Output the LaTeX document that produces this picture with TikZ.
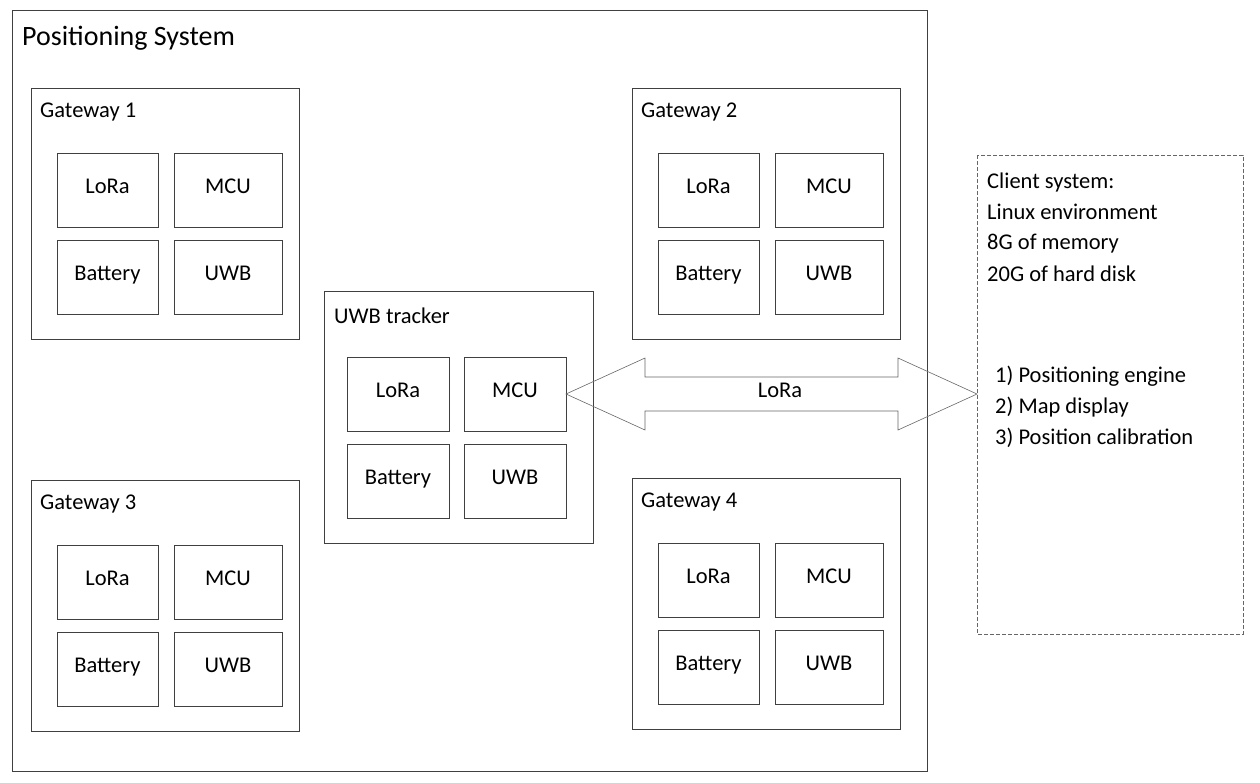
\documentclass[tikz,border=0pt]{standalone}
\usepackage{fontspec}
\setmainfont{Carlito}
\begin{document}
\begin{tikzpicture}[x=1pt,y=-1pt,
  box/.style={draw=black!75,line width=0.8pt},
  lbl/.style={anchor=west,inner sep=0pt,font=\fontsize{22.5}{25}\selectfont},
  ctext/.style={font=\fontsize{22.5}{25}\selectfont,inner sep=0pt,text height=11pt,text depth=4pt}]
\useasboundingbox (0,0) rectangle (1260,782);
\draw[box] (12,10) rectangle (927,771);
\node[lbl,font=\fontsize{28}{30}\selectfont] (title) at (22,38) {Positioning System};
\newcommand{\mycells}[3]{% prefix, x, y of top-left LoRa
  \draw[box] (#2,#3) rectangle ++(101,74) node[ctext,midway] (#1lora) {LoRa};
  \draw[box] (#2+117,#3) rectangle ++(108,74) node[ctext,midway] (#1mcu) {MCU};
  \draw[box] (#2,#3+87) rectangle ++(101,74) node[ctext,midway] (#1bat) {Battery};
  \draw[box] (#2+117,#3+87) rectangle ++(108,74) node[ctext,midway] (#1uwb) {UWB};
}
% Gateway 1
\draw[box] (31,88) rectangle (299,339);
\node[lbl] (g1) at (40,112) {Gateway 1};
\mycells{a}{57}{153}
% Gateway 2
\draw[box] (632,88) rectangle (900,339);
\node[lbl] (g2) at (641,112) {Gateway 2};
\mycells{b}{658}{153}
% Gateway 3
\draw[box] (31,480) rectangle (299,731);
\node[lbl] (g3) at (40,504) {Gateway 3};
\mycells{c}{57}{545}
% Gateway 4
\draw[box] (632,478) rectangle (900,729);
\node[lbl] (g4) at (641,502) {Gateway 4};
\mycells{d}{658}{543}
% UWB tracker
\draw[box] (324,291) rectangle (593,543);
\node[lbl] (ut) at (334,316) {UWB tracker};
\draw[box] (347,357) rectangle (449,431) node[ctext,midway] (tlora) {LoRa};
\draw[box] (464,357) rectangle (566,431) node[ctext,midway] (tmcu) {MCU};
\draw[box] (347,444) rectangle (449,518) node[ctext,midway] (tbat) {Battery};
\draw[box] (464,444) rectangle (566,518) node[ctext,midway] (tuwb) {UWB};
% Client
\draw[draw=black!60,line width=0.8pt,dash pattern=on 4pt off 2pt] (977,155) rectangle (1243,634);
\node[lbl] (c1) at (987,182) {Client system:};
\node[lbl] (c2) at (987,212) {Linux environment};
\node[lbl] (c3) at (987,244) {8G of memory};
\node[lbl] (c4) at (987,274) {20G of hard disk};
\node[lbl] (c5) at (995,376) {1) Positioning engine};
\node[lbl] (c6) at (995,407) {2) Map display};
\node[lbl] (c7) at (995,438) {3) Position calibration};
% double arrow
\draw[draw=black!60,line width=0.6pt] (566,394) -- (645,358) -- (645,377) -- (898,377) -- (898,358)
  -- (977,394) -- (898,430) -- (898,411) -- (645,411) -- (645,430) -- cycle;
\node[ctext] (arrlbl) at (780,394) {LoRa};
\end{tikzpicture}
\end{document}
